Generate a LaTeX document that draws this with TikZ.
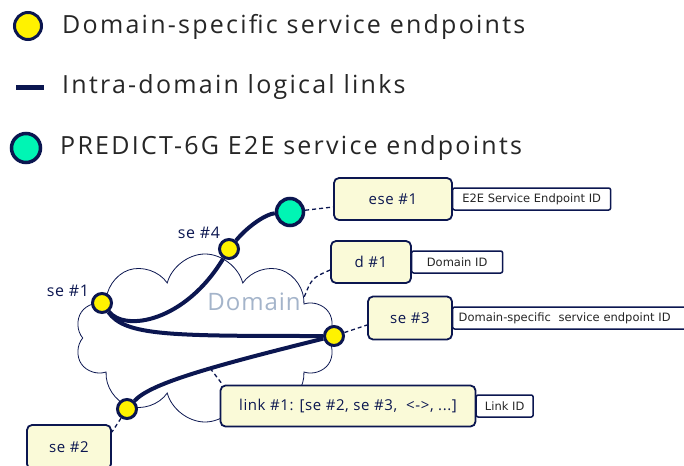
\documentclass[tikz,border=0pt]{standalone}
\usepackage{fontspec}
\setmainfont{Open Sans}
\newfontfamily\legfont[LetterSpace=9]{Open Sans}
\newfontfamily\boxfont[LetterSpace=4]{Open Sans}
\newfontfamily\tagfont{DejaVu Sans}
\usetikzlibrary{shapes,positioning}

\definecolor{navy}{HTML}{0B1650}
\definecolor{sepyellow}{HTML}{FFF200}
\definecolor{eseteal}{HTML}{00F5B4}
\definecolor{boxfill}{HTML}{FAFAD8}
\definecolor{domgray}{HTML}{A4B4CA}

\begin{document}
\begin{tikzpicture}[x=1pt, y=-1pt,
			sepoint/.style={circle, draw=navy, fill=sepyellow, line width=3pt,
					minimum size=19pt, inner sep=0pt},
			esepoint/.style={circle, draw=navy, fill=eseteal, line width=3.5pt,
					minimum size=27pt, inner sep=0pt},
			legtext/.style={text=black!85, font=\legfont\fontsize{25}{28}\selectfont,
					inner sep=0pt, anchor=west},
			ptlabel/.style={text=navy, font=\boxfont\fontsize{16}{18}\selectfont},
			idbox/.style={rectangle, draw=navy, fill=boxfill, line width=1.8pt,
					rounded corners=5pt, text=navy, font=\boxfont\fontsize{15}{17}\selectfont},
			tagbox/.style={rectangle, draw=navy, fill=white, line width=1.5pt,
					rounded corners=2pt, text=black!85, font=\tagfont\fontsize{11.5}{13}\selectfont,
					minimum height=22pt, inner ysep=0pt},
			link/.style={draw=navy, line width=4pt},
			dashlink/.style={draw=navy, line width=1.3pt, dash pattern=on 4pt off 3pt}
		]
		\useasboundingbox (0,0) rectangle (684,465);

		% Legend
		\node[sepoint, minimum size=27pt] (leg1) at (28,26) {};
		\node[legtext] (leg1txt) at (62,27) {Domain-specific service endpoints};
		\coordinate (leg2a) at (16,88);
		\coordinate (leg2b) at (44,88);
		\draw[link, line width=5pt] (leg2a) -- (leg2b);
		\node[legtext] (leg2txt) at (62,87) {Intra-domain logical links};
		\node[esepoint, minimum size=29pt] (leg3) at (26,148) {};
		\node[legtext] (leg3txt) at (60,148) {PREDICT-6G E2E service endpoints};

		% Domain cloud
		\node[cloud, draw=navy, line width=0.8pt, cloud puffs=10, cloud ignores aspect,
			minimum width=260pt, minimum height=168pt] (domain) at (205,338) {};
		\node[text=domgray, font=\boxfont\fontsize{24}{26}\selectfont] (domname) at (254,302) {Domain};

		% Service endpoints
		\node[sepoint] (se1) at (102,303) {};
		\node[sepoint] (se4) at (229,249) {};
		\node[esepoint] (ese1) at (290,212) {};
		\node[sepoint] (se3) at (334,336) {};
		\node[sepoint] (se2) at (127,409) {};
		\node[ptlabel] (se4lbl) at (199,233) {se \#4};
		\node[ptlabel] (se1lbl) at (68,291) {se \#1};

		% Logical links
		\draw[link] (se1) .. controls (125,332) and (185,322) .. (se4);
		\draw[link] (se4) .. controls (248,226) and (266,214) .. (ese1);
		\draw[link] (se1) .. controls (125,336) and (170,336) .. (se3);
		\draw[link] (se2) .. controls (150,384) and (205,368) .. (se3)
			coordinate[pos=0.6] (linkmid);

		% ID boxes
		\node[idbox, minimum width=118pt, minimum height=42pt] (ese1box) at (393,199) {ese \#1};
		\node[tagbox, right=-1pt of ese1box, minimum width=158pt] (ese1tag) {E2E Service Endpoint ID};
		\node[idbox, minimum width=80pt, minimum height=42pt] (d1box) at (371,262) {d \#1};
		\node[tagbox, right=-1pt of d1box, minimum width=91pt] (d1tag) {Domain ID};
		\node[idbox, minimum width=84pt, minimum height=43pt] (se3box) at (410,318) {se \#3};
		\node[tagbox, right=-1pt of se3box, minimum width=240pt, align=left,
			text width=228pt] (se3tag) {Domain-specific\ \ service endpoint ID};
		\node[idbox, minimum width=255pt, minimum height=41pt] (linkbox) at (348,406)
			{link \#1: [se \#2, se \#3,\ \ <->, ...]};
		\node[tagbox, right=-1pt of linkbox, minimum width=57pt] (linktag) {Link ID};
		\node[idbox, minimum width=84pt, minimum height=44pt] (se2box) at (69,447) {se \#2};

		% Dashed pointers
		\draw[dashlink] (ese1) -- ([yshift=-8pt]ese1box.west);
		\draw[dashlink] ([yshift=-8pt]d1box.west) .. controls (312,278) .. ([yshift=5pt]domname.east);
		\draw[dashlink] (se3) -- ([yshift=-7pt]se3box.west);
		\draw[dashlink] (se2) -- ([yshift=-8pt]se2box.north east);
		\draw[dashlink] (linkmid) -- ([xshift=3pt]linkbox.north west);
	\end{tikzpicture}
\end{document}
